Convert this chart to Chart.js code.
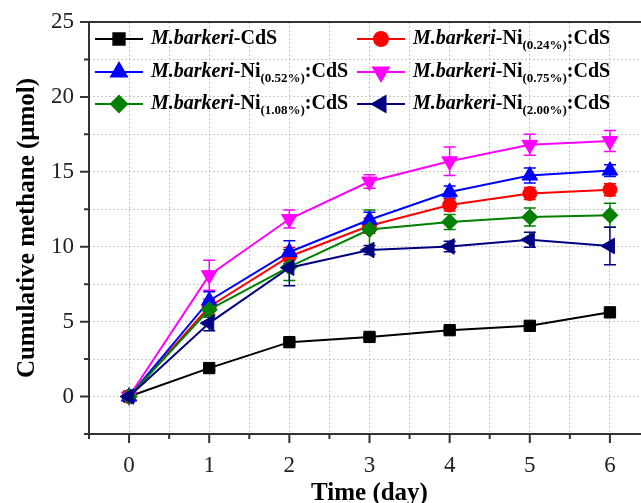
<!DOCTYPE html>
<html lang="en">

<head>
    <meta charset="UTF-8">
    <title>Cumulative methane</title>
    <script src="https://cdn.jsdelivr.net/npm/chart.js"></script>
    <style>
        body { margin: 0; background: #fff; overflow: hidden; }
        #wrap { width: 660px; height: 503px; }
    </style>
</head>

<body>
    <div id="wrap">
        <canvas id="lineChart" width="660" height="503"></canvas>
    </div>

    <script>
        // values
        const days = [0, 1, 2, 3, 4, 5, 6];
        const cds = [0, 1.9, 3.63, 3.98, 4.43, 4.72, 5.62];
        const ni024 = [0, 6.0, 9.35, 11.4, 12.78, 13.55, 13.8];
        const ni052 = [0, 6.4, 9.65, 11.8, 13.65, 14.75, 15.08];
        const ni075 = [0, 8.1, 11.85, 14.35, 15.7, 16.8, 17.05];
        const ni108 = [0, 5.8, 8.65, 11.15, 11.65, 11.98, 12.1];
        const ni200 = [0, 4.9, 8.6, 9.78, 10.02, 10.47, 10.05];

        const cdsErr = [0, 0.15, 0.15, 0.15, 0.15, 0.15, 0.15];
        const err024 = [0, 0.5, 0.6, 0.5, 0.4, 0.4, 0.4];
        const err052 = [0, 0.6, 0.75, 0.5, 0.4, 0.5, 0.4];
        const err075 = [0, 1.0, 0.6, 0.45, 0.95, 0.7, 0.7];
        const err108 = [0, 0.5, 0.9, 1.3, 0.5, 0.6, 0.8];
        const err200 = [0, 0.5, 1.2, 0.3, 0.35, 0.5, 1.25];

        const subs = [null, '(0.24%)', '(0.52%)', '(0.75%)', '(1.08%)', '(2.00%)'];

        const serif = '"Liberation Serif", "Times New Roman", serif';

        const series = [
            { vals: cds, err: cdsErr, color: '#000000', style: 'rect', r: 8, rot: 0 },
            { vals: ni024, err: err024, color: '#ff0000', style: 'circle', r: 7, rot: 0 },
            { vals: ni052, err: err052, color: '#0000ff', style: 'triangle', r: 9, rot: 0 },
            { vals: ni075, err: err075, color: '#ff00ff', style: 'triangle', r: 9, rot: 180 },
            { vals: ni108, err: err108, color: '#008000', style: 'rectRot', r: 8, rot: 0 },
            { vals: ni200, err: err200, color: '#000080', style: 'triangle', r: 9, rot: -90 }
        ];

        // error bars, drawn under the markers
        const errorBars = {
            id: 'errorBars',
            beforeDatasetsDraw(chart) {
                const ctx = chart.ctx;
                const xs = chart.scales.x, ys = chart.scales.y;
                ctx.save();
                ctx.lineWidth = 1.5;
                series.forEach(s => {
                    ctx.strokeStyle = s.color;
                    days.forEach((d, i) => {
                        if (!s.err[i]) return;
                        const px = xs.getPixelForValue(d);
                        const top = ys.getPixelForValue(s.vals[i] + s.err[i]);
                        const bot = ys.getPixelForValue(s.vals[i] - s.err[i]);
                        ctx.beginPath();
                        ctx.moveTo(px, top); ctx.lineTo(px, bot);
                        ctx.moveTo(px - 6, top); ctx.lineTo(px + 6, top);
                        ctx.moveTo(px - 6, bot); ctx.lineTo(px + 6, bot);
                        ctx.stroke();
                    });
                });
                ctx.restore();
            }
        };

        // frame and outward tick marks
        const frame = {
            id: 'frame',
            afterDraw(chart) {
                const ctx = chart.ctx;
                const a = chart.chartArea;
                const xs = chart.scales.x, ys = chart.scales.y;
                ctx.save();
                ctx.strokeStyle = '#333';
                ctx.lineWidth = 2;
                ctx.strokeRect(a.left, a.top, a.right - a.left, a.bottom - a.top);
                ctx.beginPath();
                for (let v = -2.5; v <= 25; v += 2.5) {
                    const py = ys.getPixelForValue(v);
                    const len = v % 5 === 0 ? 9 : 5;
                    ctx.moveTo(a.left, py); ctx.lineTo(a.left - len, py);
                }
                for (let v = -0.5; v <= 6.5; v += 0.5) {
                    const px = xs.getPixelForValue(v);
                    const len = Number.isInteger(v) ? 9 : 5;
                    ctx.moveTo(px, a.bottom); ctx.lineTo(px, a.bottom + len);
                }
                ctx.stroke();
                ctx.restore();
            }
        };

        // legend with subscripts, inside the plot
        const legendBox = {
            id: 'legendBox',
            afterDraw(chart) {
                const ctx = chart.ctx;
                const cols = [95, 357];
                const rows = [39, 72, 104];
                ctx.save();
                series.forEach((s, i) => {
                    const x0 = cols[i % 2];
                    const y = rows[Math.floor(i / 2)];
                    ctx.strokeStyle = s.color;
                    ctx.fillStyle = s.color;
                    ctx.lineWidth = 2;
                    ctx.beginPath();
                    ctx.moveTo(x0, y); ctx.lineTo(x0 + 48, y);
                    ctx.stroke();
                    Chart.helpers.drawPoint(ctx, { pointStyle: s.style, radius: s.r, rotation: s.rot, borderWidth: 1 }, x0 + 24, y);

                    ctx.fillStyle = '#000';
                    ctx.textBaseline = 'middle';
                    let x = x0 + 56;
                    const parts = [['italic bold 20px ' + serif, 'M.barkeri', 0]];
                    if (subs[i]) {
                        parts.push(['bold 20px ' + serif, '-Ni', 0]);
                        parts.push(['bold 13px ' + serif, subs[i], 7]);
                        parts.push(['bold 20px ' + serif, ':CdS', 0]);
                    } else {
                        parts.push(['bold 20px ' + serif, '-CdS', 0]);
                    }
                    parts.forEach(p => {
                        ctx.font = p[0];
                        ctx.fillText(p[1], x, y + p[2]);
                        x += ctx.measureText(p[1]).width;
                    });
                });
                ctx.restore();
            }
        };

        const ctx = document.getElementById('lineChart').getContext('2d');
        const chart = new Chart(ctx, {
            type: 'line',
            data: {
                datasets: series.map((s, i) => ({
                    data: days.map((d, j) => ({ x: d, y: s.vals[j] })),
                    borderColor: s.color,
                    backgroundColor: s.color,
                    borderWidth: 2,
                    pointStyle: s.style,
                    pointRadius: s.r,
                    pointRotation: s.rot,
                    pointBorderWidth: 1,
                    order: series.length - i
                }))
            },
            options: {
                responsive: false,
                animation: false,
                layout: { padding: { top: 22, right: 10, left: 0, bottom: 0 } },
                plugins: {
                    legend: { display: false },
                    tooltip: { enabled: false }
                },
                scales: {
                    x: {
                        type: 'linear',
                        min: -0.5,
                        max: 6.5,
                        afterFit(scale) {
                            scale.height = 69;
                            scale.paddingLeft = 0;
                            scale.paddingRight = 0;
                        },
                        border: { display: false, dash: [2, 2] },
                        grid: { color: '#c8c8c8', drawTicks: false },
                        ticks: {
                            stepSize: 0.5,
                            padding: 18,
                            color: '#222',
                            font: { family: serif, size: 23 },
                            callback: v => (Number.isInteger(v) && v >= 0 && v <= 6) ? String(v) : ''
                        },
                        title: {
                            display: true,
                            text: 'Time (day)',
                            color: '#000',
                            font: { family: serif, size: 25, weight: 'bold', lineHeight: 1 },
                            padding: { top: 0, bottom: -3 }
                        }
                    },
                    y: {
                        min: -2.5,
                        max: 25,
                        afterFit(scale) {
                            scale.width = 89;
                            scale.paddingTop = 0;
                            scale.paddingBottom = 0;
                        },
                        border: { display: false, dash: [2, 2] },
                        grid: { color: '#c8c8c8', drawTicks: false },
                        ticks: {
                            stepSize: 2.5,
                            padding: 15,
                            color: '#222',
                            font: { family: serif, size: 23 },
                            callback: v => (v % 5 === 0) ? String(v) : ''
                        },
                        title: {
                            display: true,
                            text: 'Cumulative methane (μmol)',
                            color: '#000',
                            font: { family: serif, size: 25, weight: 'bold', lineHeight: 1 },
                            padding: { top: 15, bottom: 0 }
                        }
                    }
                }
            },
            plugins: [errorBars, frame, legendBox]
        });
    </script>
</body>

</html>
